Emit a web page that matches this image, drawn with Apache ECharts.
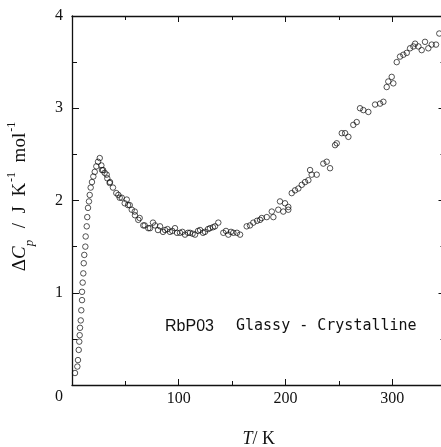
<!DOCTYPE html>
<html>
<head>
<meta charset="utf-8">
<script src="https://cdn.jsdelivr.net/npm/echarts@6/dist/echarts.min.js"></script>
<style>html,body{margin:0;padding:0;background:#fff;}#c{width:441px;height:447px;}</style>
</head>
<body>
<div id="c"></div>
<script>
// Temperature T / K
const temps = [
  2.8, 5.0, 5.6, 6.3, 6.8, 7.2, 7.5, 8.2, 8.7, 9.4, 9.4, 10.0, 10.6, 11.0, 11.5, 12.5, 12.8, 13.8, 14.3, 15.0,
  15.9, 16.6, 17.5, 18.7, 20.0, 21.3, 22.8, 24.4, 26.0,
  27.5, 28.1, 29.1, 30.6, 32.5, 33.1, 35.3, 35.6, 38.4, 41.5, 43.4, 44.7, 46.6, 49.4, 51.3, 52.5, 54.1, 56.0,
  58.8, 59.0, 62.1, 63.4, 66.8, 68.1, 71.5,
  73.1, 75.9, 77.8, 80.6, 82.5, 85.3, 87.2, 89.5, 91.8, 94.0, 96.5, 98.4, 101.2, 103.5, 105.9, 108.7, 110.6, 113.0,
  115.3, 118.1, 120.0, 122.8, 124.6, 127.5, 129.3, 132.1, 134.0, 137.1, 141.8, 144.3, 146.5, 149.0, 151.2,
  154.6, 157.5, 163.7, 166.8, 169.9, 173.4, 176.2, 177.8, 182.5, 187.2, 188.7, 193.3, 194.9, 198.0, 199.6,
  202.7, 202.7, 205.9, 209.0, 212.1, 215.3, 218.4, 221.5, 223.1, 224.6, 229.3, 235.5, 238.7, 241.8, 246.5,
  248.1, 252.8, 255.9, 259.0, 263.6, 266.8, 269.9, 273.0, 277.7, 284.0, 288.7, 291.8, 294.9, 296.4, 299.6,
  301.1, 304.3, 307.4, 310.5, 313.7, 316.8, 319.9, 321.5, 324.6, 327.7, 330.8, 333.9, 337.1, 341.1, 344.2
];
// Delta Cp / J K^-1 mol^-1
const deltaCp = [
  0.13, 0.20, 0.27, 0.38, 0.47, 0.54, 0.62, 0.70, 0.81, 0.92, 1.01, 1.11, 1.21, 1.32, 1.41, 1.50, 1.61, 1.72, 1.82, 1.92,
  1.99, 2.06, 2.14, 2.20, 2.26, 2.31, 2.37, 2.42, 2.46,
  2.38, 2.33, 2.33, 2.30, 2.28, 2.24, 2.19, 2.20, 2.14, 2.08, 2.06, 2.03, 2.03, 1.97, 2.01, 1.95, 1.95, 1.90,
  1.88, 1.84, 1.79, 1.81, 1.73, 1.73, 1.70,
  1.70, 1.76, 1.73, 1.68, 1.72, 1.66, 1.68, 1.69, 1.66, 1.67, 1.70, 1.65, 1.65, 1.66, 1.63, 1.65, 1.65, 1.64,
  1.63, 1.67, 1.68, 1.65, 1.66, 1.69, 1.70, 1.71, 1.72, 1.76, 1.65, 1.67, 1.63, 1.66, 1.65,
  1.65, 1.63, 1.72, 1.73, 1.76, 1.78, 1.79, 1.81, 1.82, 1.88, 1.82, 1.90, 1.99, 1.88, 1.97,
  1.93, 1.90, 2.08, 2.11, 2.13, 2.17, 2.20, 2.22, 2.33, 2.28, 2.28, 2.40, 2.42, 2.35, 2.60,
  2.62, 2.73, 2.73, 2.69, 2.82, 2.85, 3.00, 2.98, 2.96, 3.04, 3.05, 3.07, 3.23, 3.29, 3.34,
  3.27, 3.50, 3.56, 3.58, 3.60, 3.65, 3.67, 3.70, 3.67, 3.63, 3.72, 3.65, 3.69, 3.69, 3.81
];
const xTicks = [0, 100, 200, 300];
const yTicks = [0, 1, 2, 3, 4];

const points = temps.map((t, i) => [t, deltaCp[i]]);
const axisColor = '#111';
const serif = "'Liberation Serif', 'DejaVu Serif', serif";

const chart = echarts.init(document.getElementById('c'), null, {renderer: 'canvas'});
const xBase = {
  type: 'value', min: 0, max: 350, interval: 100,
  axisLine: {show: true, onZero: false, lineStyle: {color: axisColor, width: 1.3}},
  axisTick: {show: true, inside: true, length: 6, lineStyle: {color: axisColor, width: 1}},
  minorTick: {show: true, splitNumber: 2, length: 4, lineStyle: {color: axisColor, width: 1}},
  splitLine: {show: false}, minorSplitLine: {show: false}
};
const yBase = {
  type: 'value', min: 0, max: 4, interval: 1,
  axisLine: {show: true, onZero: false, lineStyle: {color: axisColor, width: 1.3}},
  axisTick: {show: true, inside: true, length: 7, lineStyle: {color: axisColor, width: 1}},
  minorTick: {show: true, splitNumber: 2, length: 5, lineStyle: {color: axisColor, width: 1}},
  splitLine: {show: false}, minorSplitLine: {show: false}
};
chart.setOption({
  backgroundColor: '#fff',
  animation: false,
  grid: {left: 72, top: 16, width: 373.5, height: 369, containLabel: false, outerBoundsMode: 'none'},
  xAxis: [
    Object.assign({}, xBase, {
      position: 'bottom',
      axisLabel: {show: true, margin: 6, color: '#111', fontFamily: serif, fontSize: 16,
        formatter: v => (xTicks.includes(v) && v !== 0) ? String(v) : ''},
      name: '{t|T}/ K', nameLocation: 'middle', nameGap: 45,
      nameTextStyle: {color: '#111', fontFamily: serif, fontSize: 18, verticalAlign: 'top',
        rich: {t: {fontStyle: 'italic', fontFamily: serif, fontSize: 18, color: '#111'}}}
    }),
    Object.assign({}, xBase, {position: 'top', axisLabel: {show: false}})
  ],
  yAxis: [
    Object.assign({}, yBase, {
      position: 'left',
      axisLabel: {show: true, margin: 9, color: '#111', fontFamily: serif, fontSize: 16,
        formatter: v => !yTicks.includes(v) ? '' : (v === 0 ? '{z|0}' : String(v)),
        rich: {z: {padding: [24, 0, 0, 0], fontFamily: serif, fontSize: 16, color: '#111'}}},
      name: '{n|Δ}{i|C}{sub|p}{n|  /  J  K}{sup|-1}{n|  mol}{sup|-1}',
      nameLocation: 'middle', nameGap: 40, nameRotate: 90,
      nameTextStyle: {color: '#111', fontFamily: serif, fontSize: 19, padding: [0, 0, 0, 8],
        rich: {
          n: {fontFamily: serif, fontSize: 19, color: '#111', lineHeight: 24, verticalAlign: 'middle'},
          i: {fontFamily: serif, fontSize: 19, fontStyle: 'italic', color: '#111', lineHeight: 24, verticalAlign: 'middle'},
          sub: {fontFamily: serif, fontSize: 13, fontStyle: 'italic', color: '#111', lineHeight: 24, verticalAlign: 'bottom', padding: [0, 2, -4, 0]},
          sup: {fontFamily: serif, fontSize: 12, color: '#111', lineHeight: 24, verticalAlign: 'top', padding: [-2, 0, 0, 1]}
        }}
    }),
    Object.assign({}, yBase, {position: 'right', axisLabel: {show: false}})
  ],
  graphic: [
    {type: 'text', left: 165, top: 319, style: {text: 'RbP03', fill: '#111',
      font: "16px 'Liberation Sans Narrow', 'Liberation Sans', sans-serif"}},
    {type: 'text', left: 236, top: 319, style: {text: 'Glassy - Crystalline', fill: '#111',
      font: "15px 'DejaVu Sans Mono', 'Liberation Mono', monospace"}}
  ],
  series: [{
    type: 'scatter', data: points, xAxisIndex: 0, yAxisIndex: 0,
    symbol: 'circle', symbolSize: 5.5,
    itemStyle: {color: 'rgba(255,255,255,0)', borderColor: '#111', borderWidth: 0.9},
    emphasis: {disabled: true}
  }]
});
</script>
</body>
</html>
